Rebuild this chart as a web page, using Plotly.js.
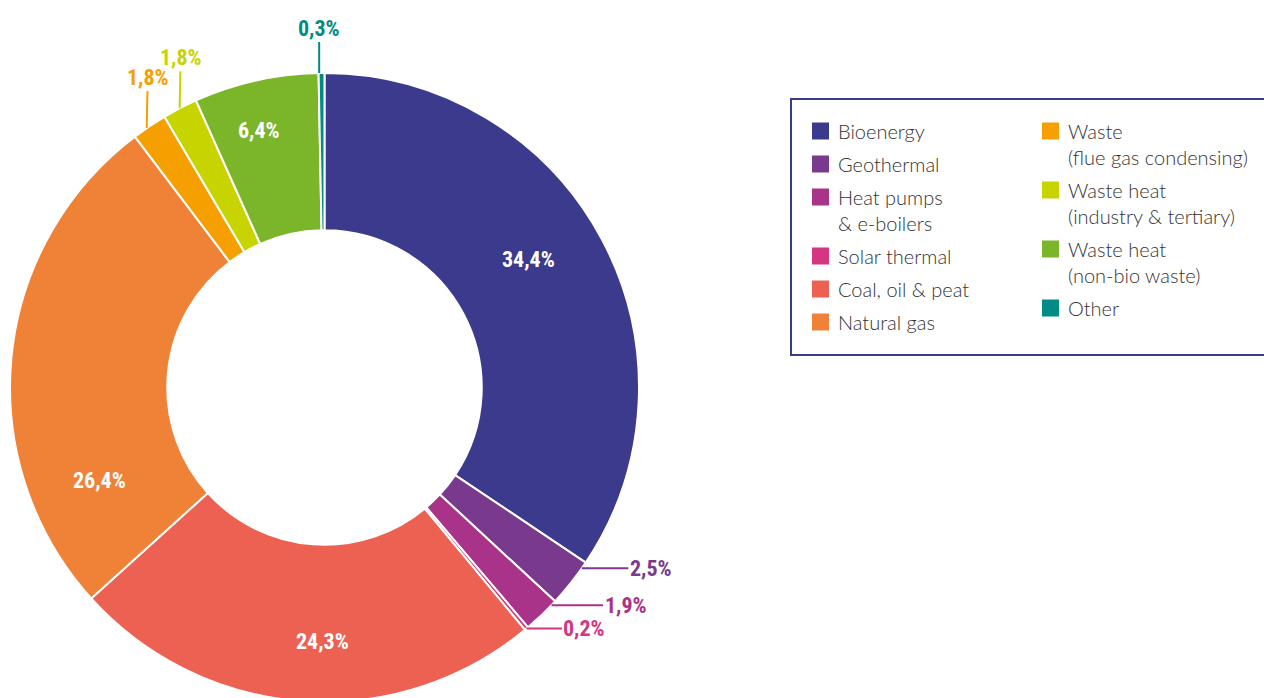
<!DOCTYPE html>
<html>
<head>
<meta charset="utf-8">
<script src="https://cdn.plot.ly/plotly-3.0.1.min.js"></script>
<style>
  html, body { margin: 0; padding: 0; background: #ffffff; overflow: hidden; width: 1264px; height: 698px; }
  #chart { width: 1264px; height: 775px; }
</style>
</head>
<body>
<div id="chart"></div>
<script>
// ---------------- DATA ----------------
const categories = [
  "Bioenergy",
  "Geothermal",
  "Heat pumps<br>& e-boilers",
  "Solar thermal",
  "Coal, oil & peat",
  "Natural gas",
  "Waste<br>(flue gas condensing)",
  "Waste heat<br>(industry & tertiary)",
  "Waste heat<br>(non-bio waste)",
  "Other"
];
const shares = [34.4, 2.5, 1.9, 0.2, 24.3, 26.4, 1.8, 1.8, 6.4, 0.3];

// ---------------- STYLE ----------------
const colors = ["#3B3A8C", "#793A8D", "#A93389", "#D6357F", "#EC6152",
                "#F08238", "#F5A000", "#C8D400", "#7AB52A", "#008C84"];
const W = 1264, H = 775;
const CX = 324.5, CY = 387.5, R = 314.5;
const FONT_PCT = "Roboto Condensed";
const PCT_SIZE = 22;
const FONT_LEG = "Lato";

const labelStyle = {
  0: {type: "in",  frac: 0.468, r: 241},
  1: {type: "out", frac: 0.14,  ax: 69, ay: 0},
  2: {type: "out", frac: 0.14,  ax: 74, ay: 0},
  3: {type: "out", frac: 0.5,   ax: 58, ay: 0},
  4: {type: "in",  frac: 0.458, r: 254},
  5: {type: "in",  frac: 0.206, r: 243.5},
  6: {type: "out", frac: 0.41,  ax: 1, ay: -51},
  7: {type: "out", frac: 0.49,  ax: 1, ay: -51},
  8: {type: "in",  frac: 0.43,  r: 265},
  9: {type: "out", frac: 0.1,   ax: 0, ay: -45}
};

const px2x = px => px / W;
const py2y = py => 1 - py / H;
const fmt = v => v.toFixed(1).replace(".", ",") + "%";
const total = shares.reduce((a, b) => a + b, 0);
function polar(angDeg, r) { const a = angDeg * Math.PI / 180; return [CX + r * Math.sin(a), CY - r * Math.cos(a)]; }

const trace = {
  type: "pie", labels: categories, values: shares, sort: false, direction: "clockwise", rotation: 0,
  hole: 0.5, textinfo: "none", hoverinfo: "label+percent", showlegend: false,
  marker: { colors: colors, line: { color: "#ffffff", width: 2 } },
  domain: { x: [(CX - R) / W, (CX + R) / W], y: [0, 1] }
};

const annotations = [], shapes = [];
let cum = 0;
shares.forEach((v, i) => {
  const a0 = 360 * cum / total, a1 = 360 * (cum + v) / total; cum += v;
  const st = labelStyle[i];
  const ang = a0 + st.frac * (a1 - a0);
  if (st.type === "in") {
    const [px, py] = polar(ang, st.r);
    annotations.push({ xref: "paper", yref: "paper", x: px2x(px), y: py2y(py), text: fmt(v), showarrow: false,
      xanchor: "center", yanchor: "middle",
      font: { family: FONT_PCT, size: PCT_SIZE, color: "#ffffff", weight: 700 } });
  } else {
    const [px, py] = polar(ang, R);
    annotations.push({ xref: "paper", yref: "paper", x: px2x(px), y: py2y(py), text: fmt(v), showarrow: true,
      arrowhead: 0, arrowwidth: 2, arrowcolor: colors[i], ax: st.ax, ay: st.ay, standoff: 0,
      font: { family: FONT_PCT, size: PCT_SIZE, color: colors[i], weight: 700 } });
  }
});

// legend: two columns, boxed
shapes.push({ type: "rect", xref: "paper", yref: "paper", x0: px2x(791), x1: px2x(1300), y0: py2y(99), y1: py2y(355),
  line: { color: "#3B3A8C", width: 2 }, fillcolor: "rgba(0,0,0,0)" });
const colX = [812, 1042]; const rowY = [131, 131];
categories.forEach((name, i) => {
  const col = i < 6 ? 0 : 1; const lines = name.split("<br>").length; const y = rowY[col];
  shapes.push({ type: "rect", xref: "paper", yref: "paper", x0: px2x(colX[col]), x1: px2x(colX[col] + 17),
    y0: py2y(y - 8.5), y1: py2y(y + 8.5), fillcolor: colors[i], line: { width: 0 } });
  annotations.push({ xref: "paper", yref: "paper", x: px2x(colX[col] + 24), y: py2y(y + (lines - 1) * 13),
    xanchor: "left", yanchor: "middle", align: "left", showarrow: false, text: name,
    font: { family: FONT_LEG, size: 20, color: "#333333", weight: 300 } });
  rowY[col] = y + 33 + (lines - 1) * 26;
});

const layout = { width: W, height: H, margin: { l: 0, r: 0, t: 0, b: 0 },
  showlegend: false, annotations: annotations, shapes: shapes };
const config = { displayModeBar: false };

function draw() { Plotly.newPlot("chart", [trace], JSON.parse(JSON.stringify(layout)), config); }
draw();
if (document.fonts && document.fonts.ready) document.fonts.ready.then(draw);
setTimeout(draw, 150);
</script>
</body>
</html>
